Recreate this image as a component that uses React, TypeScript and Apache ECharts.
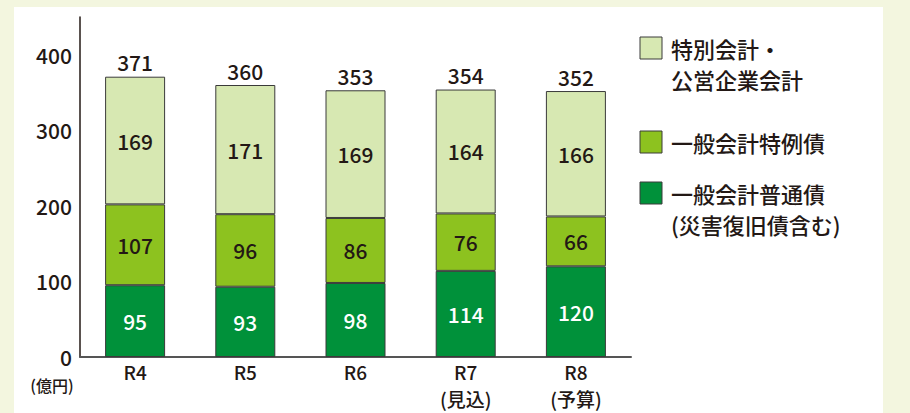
import React, { useEffect, useRef } from "react";
import * as echarts from "echarts";

const categories = ["R4\n", "R5\n", "R6\n", "R7\n(見込)", "R8\n(予算)"];
const generalBonds = [95, 93, 98, 114, 120];
const specialGeneralBonds = [107, 96, 86, 76, 66];
const specialAccounts = [169, 171, 169, 164, 166];
const totals = [371, 360, 353, 354, 352];
const seriesNames = ["一般会計普通債\n(災害復旧債含む)", "一般会計特例債", "特別会計・\n公営企業会計"];
const seriesColors = ["#00913a", "#8dc21f", "#d7e8b2"];
const labelColors = ["#ffffff", "#231815", "#231815"];
const unitLabel = "(億円)";

const FONT = "'Noto Sans CJK JP', 'Noto Sans', sans-serif";
const FW = 500;

export default function App() {
  const ref = useRef<HTMLDivElement>(null);
  useEffect(() => {
    if (!ref.current) return;
    const chart = echarts.init(ref.current, undefined, { renderer: "svg" });
    const values = [generalBonds, specialGeneralBonds, specialAccounts];
    const barSeries = values.map((arr, i) => ({
      type: "bar",
      name: seriesNames[i],
      stack: "total",
      barWidth: 60,
      data: arr,
      itemStyle: { color: seriesColors[i], borderColor: "#3a3a3a", borderWidth: 1 },
      label: {
        show: true,
        position: "inside",
        color: labelColors[i],
        fontSize: 21,
        fontWeight: FW,
        fontFamily: FONT,
      },
      z: 2,
    }));
    const legendOrder = [2, 1, 0];
    const legendY = [37, 131, 182];
    const legendGraphics: any[] = [];
    legendOrder.forEach((si, k) => {
      legendGraphics.push({
        type: "rect",
        shape: { x: 640, y: legendY[k], width: 22, height: 22 },
        style: { fill: seriesColors[si], stroke: "#3a3a3a", lineWidth: 1 },
      });
      legendGraphics.push({
        type: "text",
        x: 671,
        y: legendY[k] - 5,
        style: {
          text: seriesNames[si],
          fontSize: 22,
          fontWeight: FW,
          fontFamily: FONT,
          fill: "#231815",
          lineHeight: 31,
        },
      });
    });
    chart.setOption({
      animation: false,
      backgroundColor: "#f3f6df",
      graphic: [
        {
          type: "rect",
          shape: { x: 14, y: 7, width: 869, height: 420 },
          style: { fill: "#ffffff" },
          z: -10,
        },
        {
          type: "text",
          x: 52,
          y: 385,
          style: {
            text: unitLabel,
            fontSize: 16,
            fontWeight: FW,
            fontFamily: FONT,
            fill: "#231815",
            align: "center",
            verticalAlign: "middle",
          },
        },
        ...legendGraphics,
      ],
      grid: { left: 80, right: 279, top: 17, bottom: 56 },
      xAxis: {
        type: "category",
        data: categories,
        axisLine: { lineStyle: { color: "#555555", width: 2 } },
        axisTick: { show: false },
        axisLabel: {
          fontSize: 19,
          fontWeight: FW,
          fontFamily: FONT,
          color: "#231815",
          lineHeight: 27,
          margin: 1,
        },
      },
      yAxis: {
        type: "value",
        min: 0,
        max: 450,
        interval: 100,
        axisLine: { show: true, lineStyle: { color: "#231815", width: 1.5 } },
        axisTick: { show: false },
        splitLine: { show: false },
        axisLabel: {
          showMaxLabel: false,
          fontSize: 21,
          fontWeight: FW,
          fontFamily: FONT,
          color: "#231815",
          margin: 8,
        },
      },
      series: [
        ...barSeries,
        {
          type: "scatter",
          name: "total",
          data: totals,
          symbolSize: 0,
          itemStyle: { opacity: 1 },
          label: {
            show: true,
            position: "top",
            distance: 4,
            fontSize: 21,
            fontWeight: FW,
            fontFamily: FONT,
            color: "#231815",
          },
          z: 3,
        },
      ],
    });
    return () => chart.dispose();
  }, []);
  return (
    <div
      ref={ref}
      style={{ position: "fixed", left: 0, top: 0, width: 910, height: 413 }}
    />
  );
}
